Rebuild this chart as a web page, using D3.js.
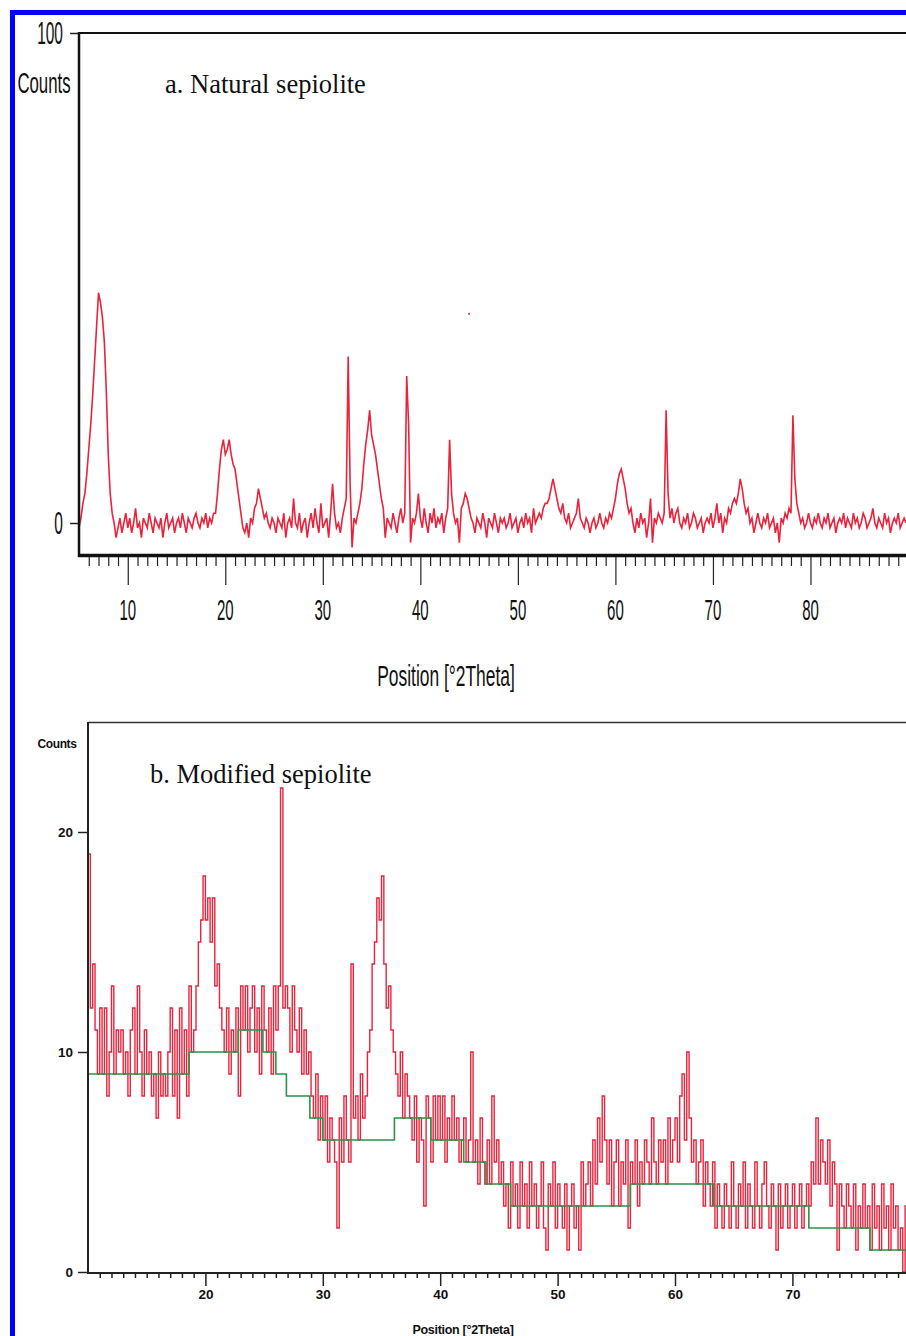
<!DOCTYPE html>
<html>
<head>
<meta charset="utf-8">
<script src="https://cdn.jsdelivr.net/npm/d3@7"></script>
<style>
  body { margin: 0; background: #fff; }
  svg { display: block; }
</style>
</head>
<body>
<svg id="chart" width="906" height="1336"></svg>
<script>
"use strict";

// panel a: natural sepiolite, counts read every 0.2 deg from 5.0
const aStart = 5.0, aStep = 0.2;
const aCounts = [
  -1, 1, 4, 6, 10, 15, 20, 26, 33, 40,      // 5
  47, 45, 42, 37, 27, 14, 6, 2, 0, -3,      // 7
  -1, 1, -2, 0, 2, -1, 1, -2, 0, 3,         // 9
  -1, 0, -3, 1, 0, -1, 2, 0, -2, 1,         // 11
  0, -1, 1, -3, 0, 2, -1, 0, 1, -2,         // 13
  0, 1, -1, 2, 0, -2, 1, 0, -1, 1,          // 15
  2, 0, -1, 1, 0, 2, -1, 1, 0, 2,           // 17
  2, 6, 11, 15, 17, 14, 15, 17, 14, 12,     // 19
  11, 8, 5, 2, -1, -2, 0, -3, 1, 0,         // 21
  3, 4, 7, 5, 3, 1, 2, 0, -1, 1,            // 23
  0, -2, 1, 0, -1, 2, -3, 0, 1, -1,         // 25
  5, 0, -1, 2, -2, 0, 1, -3, 0, 2,          // 27
  -1, 3, 0, -2, 4, -1, 0, 1, -3, 2,         // 29
  8, 2, -1, 0, -2, 1, 3, 5, 34, 8,          // 31
  -5, 1, 0, 2, 4, 7, 12, 16, 19, 23,        // 33
  18, 16, 14, 11, 8, 5, 3, -3, 1, 0,        // 35
  -1, 2, 0, -2, 1, 3, 0, 2, 30, 20,         // 37
  -4, 1, 0, 2, 6, 1, -1, 3, 0, -2,          // 39
  2, 0, 3, -1, 1, 0, 2, -2, 1, 3,           // 41
  17, 6, 2, 0, 1, -4, 3, 4, 6, 5,           // 43
  3, 1, 0, -2, 1, 0, -1, 2, 0, -3,          // 45
  1, 0, -1, 2, 0, -2, 1, 0, 1, -1,          // 47
  0, 2, -1, 0, 1, -2, 0, 1, -1, 2,          // 49
  0, 1, -2, 3, 0, 1, 2, 1, 3, 4,            // 51
  4, 5, 7, 9, 7, 5, 3, 2, 4, 1,             // 53
  0, 2, -1, 0, 1, 2, 5, 1, 0, -1,           // 55
  1, 0, -2, 0, 1, -1, 0, 2, 0, -1,          // 57
  1, 0, 2, 1, 3, 5, 8, 10, 11, 9,           // 59
  7, 4, 2, 3, 0, -2, 1, -1, 2, 0,           // 61
  1, -3, 0, 5, -4, 1, 0, 2, 1, 0,           // 63
  2, 23, 6, 1, 3, 0, 2, 3, 0, -1,           // 65
  1, 0, 2, -1, 0, 2, 1, -1, 0, 1,           // 67
  -2, 0, 1, 0, 2, -1, 1, 4, 0, 2,           // 69
  -2, 1, 0, 3, 2, 4, 5, 4, 6, 9,            // 71
  7, 4, 2, 3, 0, 1, -2, 0, 2, 0,            // 73
  -1, 1, 0, 2, -1, 0, 1, -2, 0, -4,         // 75
  1, 0, 2, 1, 3, 2, 22, 9, 4, 2,            // 77
  0, 1, -1, 0, 2, 0, -1, 1, 0, 2,           // 79
  0, -1, 1, 0, 2, -1, 0, 1, -2, 0,          // 81
  1, 0, 2, -1, 1, 0, -1, 2, 0, 1,           // 83
  -1, 0, 2, 1, -1, 0, 1, 3, 0, -1,          // 85
  1, 0, -1, 2, 0, 1, -2, 0, 1, 0,           // 87
  2, -1, 0, 1, 0                            // 89
];
const aStray = [[45.0, 42.7]];
const aXTicks = [10, 20, 30, 40, 50, 60, 70, 80];
const aYTicks = [0, 100];

// panel b: modified sepiolite, counts every 0.2 deg from 10.0
const bStart = 10.0, bStep = 0.2;
const bCounts = [
  19, 12, 14, 11, 9, 12, 9, 12, 8, 10,      // 10
  13, 9, 11, 10, 11, 9, 10, 8, 11, 12,      // 12
  9, 13, 10, 8, 11, 9, 10, 8, 9, 7,         // 14
  10, 8, 9, 8, 10, 12, 8, 11, 7, 12,        // 16
  9, 11, 8, 13, 10, 11, 13, 15, 16, 18,     // 18
  16, 17, 15, 17, 13, 14, 12, 11, 10, 12,   // 20
  9, 11, 10, 12, 8, 13, 11, 13, 10, 12,     // 22
  13, 10, 12, 9, 13, 11, 10, 12, 9, 13,     // 24
  11, 13, 22, 12, 13, 12, 10, 13, 11, 10,   // 26
  12, 9, 11, 9, 10, 8, 7, 9, 6, 8,          // 28
  6, 8, 5, 7, 6, 5, 2, 7, 5, 8,             // 30
  6, 5, 14, 7, 8, 6, 9, 7, 8, 10,           // 32
  11, 14, 15, 17, 16, 18, 14, 12, 13, 11,   // 34
  10, 9, 8, 10, 7, 9, 8, 7, 6, 8,           // 36
  5, 7, 6, 3, 8, 7, 5, 8, 6, 8,             // 38
  6, 8, 5, 7, 6, 8, 6, 7, 5, 6,             // 40
  7, 5, 6, 10, 5, 6, 4, 7, 5, 4,            // 42
  6, 4, 8, 5, 6, 4, 5, 3, 4, 2,             // 44
  5, 3, 4, 2, 5, 3, 4, 2, 5, 3,             // 46
  4, 2, 3, 5, 2, 1, 4, 3, 5, 2,             // 48
  4, 3, 2, 4, 1, 3, 4, 2, 3, 1,             // 50
  5, 3, 4, 5, 3, 6, 4, 7, 5, 8,             // 52
  6, 4, 6, 3, 5, 6, 3, 5, 4, 6,             // 54
  2, 5, 4, 6, 3, 5, 4, 6, 5, 4,             // 56
  7, 5, 4, 6, 5, 6, 4, 7, 5, 6,             // 58
  7, 5, 8, 9, 6, 10, 7, 5, 6, 4,            // 60
  5, 6, 3, 5, 4, 3, 5, 2, 4, 3,             // 62
  2, 4, 3, 2, 5, 3, 2, 4, 3, 5,             // 64
  2, 4, 3, 2, 5, 3, 2, 4, 5, 3,             // 66
  2, 4, 3, 1, 4, 2, 3, 4, 2, 3,             // 68
  4, 2, 3, 4, 2, 3, 4, 3, 5, 4,             // 70
  7, 4, 6, 5, 4, 6, 3, 5, 4, 1,             // 72
  4, 3, 2, 4, 3, 2, 4, 1, 3, 2,             // 74
  4, 2, 3, 1, 4, 2, 3, 1, 4, 2,             // 76
  3, 1, 4, 2, 3, 1, 2, 0, 3, 3              // 78
];
// fitted background (green step line)
const bBgTheta = [10, 18.6, 22.8, 24.9, 26.0, 26.9, 28.9, 30.0, 36.1, 39.2, 42.0, 43.9, 46.0, 56.2, 63.3, 71.4, 76.6, 80];
const bBgCounts = [9, 10, 11, 10, 9, 8, 7, 6, 7, 6, 5, 4, 3, 4, 3, 2, 1, 1];
const bXTicks = [20, 30, 40, 50, 60, 70];
const bYTicks = [0, 10, 20];

const svg = d3.select("#chart");
svg.append("rect").attr("width", 906).attr("height", 1336).attr("fill", "#fff");

// blue frame round the figure
svg.append("rect")
  .attr("x", 12.5).attr("y", 12.5).attr("width", 920).attr("height", 1340)
  .attr("fill", "none").attr("stroke", "#0000ff").attr("stroke-width", 5);

const RED = "#e8233b";

// narrow, tall labels like the instrument software draws
function narrowText(g, x, y, str, size, anchor, sx) {
  g.append("text")
    .attr("transform", `translate(${x},${y}) scale(${sx},1)`)
    .attr("text-anchor", anchor)
    .attr("font-family", "Liberation Sans, Arial, sans-serif")
    .attr("font-size", size)
    .attr("fill", "#111")
    .text(str);
}

// ---------- panel a ----------
{
  const x = d3.scaleLinear().domain([5, 90]).range([79, 908]);
  const y = d3.scaleLinear().domain([0, 100]).range([523, 33]);
  const g = svg.append("g");

  const pts = aCounts.map((c, i) => [aStart + i * aStep, c]);
  g.append("path")
    .datum(pts)
    .attr("fill", "none")
    .attr("stroke", RED)
    .attr("stroke-width", 1.6)
    .attr("d", d3.line().x(d => x(d[0])).y(d => y(d[1])));

  g.selectAll("circle.stray").data(aStray).enter()
    .append("circle")
    .attr("cx", d => x(d[0])).attr("cy", d => y(d[1]))
    .attr("r", 1).attr("fill", RED);

  // frame
  g.append("line").attr("x1", 79).attr("x2", 906).attr("y1", 33).attr("y2", 33)
    .attr("stroke", "#111").attr("stroke-width", 2);
  g.append("line").attr("x1", 79).attr("x2", 79).attr("y1", 32).attr("y2", 557)
    .attr("stroke", "#111").attr("stroke-width", 2.5);
  g.append("line").attr("x1", 78).attr("x2", 906).attr("y1", 555.5).attr("y2", 555.5)
    .attr("stroke", "#111").attr("stroke-width", 3.5);

  // x ticks
  const minor = d3.range(6, 90).filter(v => v % 10 !== 0);
  g.append("g").attr("transform", "translate(0,557)")
    .call(d3.axisBottom(x).tickValues(minor).tickSize(9).tickFormat(""))
    .call(a => a.select(".domain").remove())
    .call(a => a.selectAll("line").attr("stroke", "#222").attr("stroke-width", 1.2));
  g.append("g").attr("transform", "translate(0,557)")
    .call(d3.axisBottom(x).tickValues(aXTicks).tickSize(28).tickFormat(""))
    .call(a => a.select(".domain").remove())
    .call(a => a.selectAll("line").attr("stroke", "#222").attr("stroke-width", 1.2));
  aXTicks.forEach(v => narrowText(g, x(v), 620, String(v), 30, "middle", 0.5));

  // y ticks
  g.append("g").attr("transform", "translate(79,0)")
    .call(d3.axisLeft(y).tickValues(aYTicks).tickSize(9).tickFormat(""))
    .call(a => a.select(".domain").remove())
    .call(a => a.selectAll("line").attr("stroke", "#222").attr("stroke-width", 1.5));
  aYTicks.forEach(v => narrowText(g, 63, y(v) + 11, String(v), 31, "end", 0.5));

  narrowText(g, 44, 93, "Counts", 30, "middle", 0.56);
  narrowText(g, 446, 686, "Position [°2Theta]", 30, "middle", 0.58);

  g.append("text").attr("x", 165).attr("y", 93)
    .attr("font-family", "Liberation Serif, Times New Roman, serif")
    .attr("font-size", 26.5).attr("fill", "#111")
    .text("a. Natural sepiolite");
}

// ---------- panel b ----------
{
  const x = d3.scaleLinear().domain([10, 80]).range([88, 909.8]);
  const y = d3.scaleLinear().domain([0, 25]).range([1272, 722]);
  const g = svg.append("g");

  const pts = bCounts.map((c, i) => [bStart + i * bStep, c]);
  g.append("path")
    .datum(pts)
    .attr("fill", "none")
    .attr("stroke", RED)
    .attr("stroke-width", 1.4)
    .attr("d", d3.line().curve(d3.curveStepAfter).x(d => x(d[0])).y(d => y(d[1])));

  const bg = bBgTheta.map((t, i) => [t, bBgCounts[i]]);
  g.append("path")
    .datum(bg)
    .attr("fill", "none")
    .attr("stroke", "#2a9447")
    .attr("stroke-width", 1.6)
    .attr("d", d3.line().curve(d3.curveStepAfter).x(d => x(d[0])).y(d => y(d[1])));

  // frame
  g.append("line").attr("x1", 88).attr("x2", 906).attr("y1", 722.5).attr("y2", 722.5)
    .attr("stroke", "#333").attr("stroke-width", 1.6);
  g.append("line").attr("x1", 88).attr("x2", 88).attr("y1", 722).attr("y2", 1274)
    .attr("stroke", "#222").attr("stroke-width", 2);
  g.append("line").attr("x1", 87).attr("x2", 906).attr("y1", 1273).attr("y2", 1273)
    .attr("stroke", "#222").attr("stroke-width", 2);

  const minor = d3.range(11, 80).filter(v => v % 10 !== 0);
  g.append("g").attr("transform", "translate(0,1274)")
    .call(d3.axisBottom(x).tickValues(minor).tickSize(4).tickFormat(""))
    .call(a => a.select(".domain").remove())
    .call(a => a.selectAll("line").attr("stroke", "#222").attr("stroke-width", 1.5));
  g.append("g").attr("transform", "translate(0,1274)")
    .call(d3.axisBottom(x).tickValues(bXTicks).tickSize(12).tickPadding(3)
      .tickFormat(d3.format("d")))
    .call(a => a.select(".domain").remove())
    .call(a => a.selectAll("line").attr("stroke", "#222").attr("stroke-width", 1.5))
    .call(a => a.selectAll("text")
      .attr("font-family", "Liberation Sans, Arial, sans-serif")
      .attr("font-weight", "bold").attr("font-size", 13.5).attr("fill", "#111"));

  g.append("g").attr("transform", "translate(88,0)")
    .call(d3.axisLeft(y).tickValues(bYTicks).tickSize(10).tickPadding(5)
      .tickFormat(d3.format("d")))
    .call(a => a.select(".domain").remove())
    .call(a => a.selectAll("line").attr("stroke", "#222").attr("stroke-width", 1.5))
    .call(a => a.selectAll("text")
      .attr("font-family", "Liberation Sans, Arial, sans-serif")
      .attr("font-weight", "bold").attr("font-size", 13.5).attr("fill", "#111"));

  g.append("text").attr("x", 57).attr("y", 748)
    .attr("text-anchor", "middle")
    .attr("font-family", "Liberation Sans, Arial, sans-serif")
    .attr("font-weight", "bold").attr("font-size", 12).attr("letter-spacing", -0.4)
    .attr("fill", "#111").text("Counts");

  g.append("text").attr("x", 463).attr("y", 1334)
    .attr("text-anchor", "middle")
    .attr("font-family", "Liberation Sans, Arial, sans-serif")
    .attr("font-weight", "bold").attr("font-size", 12.5).attr("letter-spacing", -0.3)
    .attr("fill", "#111").text("Position [°2Theta]");

  g.append("text").attr("x", 150).attr("y", 783)
    .attr("font-family", "Liberation Serif, Times New Roman, serif")
    .attr("font-size", 26.5).attr("fill", "#111")
    .text("b. Modified sepiolite");
}
</script>
</body>
</html>
